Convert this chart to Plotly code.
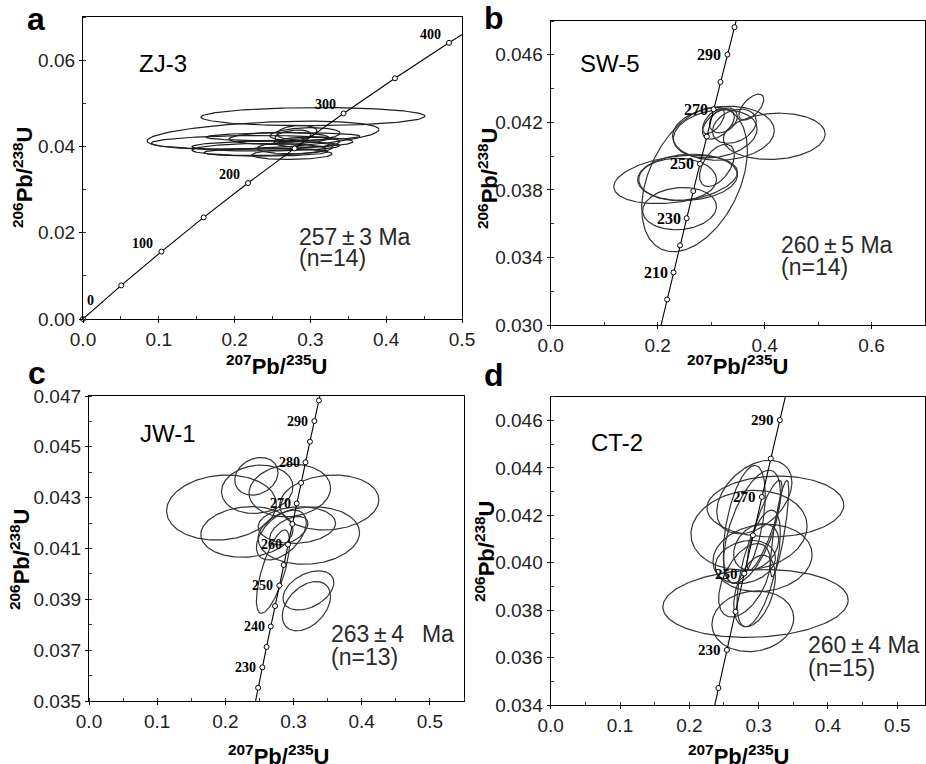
import numpy as np
import plotly.graph_objects as go

W, H = 926, 764

# ---------------- Concordia reference points ----------------
# panel a: ages every 50 Ma
CONC_AGE_A = [0, 50, 100, 150, 200, 250, 300, 350, 400, 450]
CONC_X_A = [0.0, 0.05048, 0.10350, 0.15920, 0.21771, 0.27917, 0.34374, 0.41156, 0.48281, 0.55766]
CONC_Y_A = [0.0, 0.007786, 0.015633, 0.023542, 0.031511, 0.039543, 0.047637, 0.055795, 0.064016, 0.072300]
MARK_A = [0, 50, 100, 150, 200, 250, 300, 350, 400]
LABEL_A = [0, 100, 200, 300, 400]

# panels b-d: ages every 5 Ma
CONC_AGE_Z = [190, 195, 200, 205, 210, 215, 220, 225, 230, 235, 240, 245,
              250, 255, 260, 265, 270, 275, 280, 285, 290, 295, 300, 305]
CONC_X_Z = [0.205774, 0.211726, 0.217708, 0.223719, 0.229759, 0.235830, 0.241930, 0.248061,
            0.254222, 0.260413, 0.266635, 0.272888, 0.279171, 0.285486, 0.291832, 0.298209,
            0.304617, 0.311057, 0.317529, 0.324033, 0.330569, 0.337137, 0.343738, 0.350371]
CONC_Y_Z = [0.029912, 0.030712, 0.031511, 0.032312, 0.033113, 0.033914, 0.034717, 0.035519,
            0.036323, 0.037127, 0.037932, 0.038737, 0.039543, 0.040350, 0.041157, 0.041965,
            0.042773, 0.043582, 0.044392, 0.045203, 0.046014, 0.046825, 0.047637, 0.048450]
MARK_B = [200, 210, 220, 230, 240, 250, 260, 270, 280, 290, 300]
LABEL_B = [210, 230, 250, 270, 290]
MARK_C = [225, 230, 235, 240, 245, 250, 255, 260, 265, 270, 275, 280, 285, 290, 295]
LABEL_C = [230, 240, 250, 260, 270, 280, 290]
MARK_D = [220, 230, 240, 250, 260, 270, 280, 290]
LABEL_D = [230, 250, 270, 290]

# ---------------- Error ellipses (centre, half-widths, correlation) ----------------
A_CX = [0.3034, 0.2375, 0.2230, 0.2414, 0.2414, 0.2757, 0.2639, 0.2586, 0.2770, 0.2929, 0.2823, 0.2797, 0.2955, 0.2322]
A_CY = [0.0469, 0.0426, 0.04093, 0.04007, 0.03868, 0.03814, 0.04226, 0.04186, 0.0424, 0.04279, 0.04326, 0.0397, 0.0410, 0.0393]
A_SX = [0.1478, 0.1530, 0.1330, 0.0976, 0.0818, 0.0528, 0.1016, 0.0660, 0.0237, 0.0462, 0.0264, 0.0500, 0.0435, 0.0884]
A_SY = [0.0021, 0.00326, 0.0016, 0.00116, 0.00093, 0.00116, 0.00093, 0.0014, 0.0014, 0.00155, 0.00163, 0.0014, 0.00116, 0.0014]
A_RHO = [0.05, 0.40, 0.10, 0.10, 0.10, 0.10, 0.10, 0.10, 0.30, 0.20, 0.20, 0.10, 0.10, 0.10]

B_CX = [0.2690, 0.2336, 0.2559, 0.2373, 0.2410, 0.4181, 0.3752, 0.3230, 0.3109, 0.3137, 0.3230, 0.3044, 0.3435, 0.3077]
B_CY = [0.03862, 0.03862, 0.03874, 0.03862, 0.03689, 0.04117, 0.0429, 0.04135, 0.03945, 0.04189, 0.04212, 0.04207, 0.04177, 0.04132]
B_SX = [0.0988, 0.1156, 0.0932, 0.0727, 0.0690, 0.0951, 0.0233, 0.0951, 0.0326, 0.0298, 0.0261, 0.0205, 0.0410, 0.0783]
B_SY = [0.00428, 0.00143, 0.00137, 0.00125, 0.00125, 0.00137, 0.00077, 0.0016, 0.00125, 0.00089, 0.00074, 0.00074, 0.00101, 0.00143]
B_RHO = [0.40, 0.30, 0.10, 0.00, 0.10, 0.10, 0.60, 0.10, 0.50, 0.50, 0.30, 0.60, 0.30, 0.20]

C_CX = [0.1943, 0.2316, 0.2455, 0.2467, 0.2945, 0.3524, 0.3224, 0.3048, 0.2931, 0.2699, 0.3218, 0.3189, 0.2821]
C_CY = [0.04261, 0.04165, 0.04384, 0.04333, 0.04328, 0.04281, 0.04151, 0.04192, 0.0417, 0.04009, 0.03935, 0.03873, 0.04153]
C_SX = [0.0805, 0.0676, 0.0317, 0.0524, 0.0598, 0.0727, 0.0744, 0.0568, 0.0280, 0.0244, 0.0373, 0.0354, 0.0366]
C_SY = [0.00128, 0.000995, 0.00074, 0.00095, 0.00103, 0.00108, 0.00113, 0.00072, 0.00056, 0.00164, 0.00077, 0.00097, 0.00098]
C_RHO = [0.10, 0.10, 0.20, 0.10, 0.10, 0.10, 0.10, 0.10, 0.50, 0.70, 0.40, 0.40, 0.50]

D_CX = [0.2955, 0.3241, 0.2861, 0.3056, 0.2916, 0.2793, 0.3302, 0.3000, 0.2941, 0.2905, 0.2964, 0.2808, 0.3085, 0.2796, 0.2938]
D_CY = [0.03828, 0.04237, 0.04137, 0.0402, 0.03753, 0.04162, 0.04144, 0.03976, 0.03881, 0.04151, 0.04067, 0.04003, 0.04158, 0.03926, 0.04277]
D_SX = [0.1337, 0.0987, 0.0838, 0.0715, 0.0590, 0.0303, 0.0133, 0.0313, 0.0300, 0.0410, 0.0325, 0.0434, 0.0253, 0.0373, 0.0542]
D_SY = [0.00143, 0.00128, 0.00168, 0.00142, 0.00128, 0.00248, 0.00203, 0.00246, 0.00151, 0.00239, 0.00098, 0.00091, 0.00189, 0.00155, 0.00155]
D_RHO = [0.10, 0.05, 0.10, 0.10, 0.10, 0.50, 0.80, 0.60, 0.40, 0.60, 0.30, 0.20, 0.85, 0.50, 0.40]

SAMPLES = ["ZJ-3", "SW-5", "JW-1", "CT-2"]
AGES_TXT = ["257\u2009\u00b1\u20093 Ma", "260\u2009\u00b1\u20095 Ma", "263\u2009\u00b1\u20094\u2002 Ma", "260\u2009\u00b1\u20094 Ma"]
N_TXT = ["(n=14)", "(n=14)", "(n=13)", "(n=15)"]
LETTERS = ["a", "b", "c", "d"]

# ---------------- layout geometry (pixels) ----------------
BOX = {  # left, right, top, bottom
    1: (83, 462, 17, 319),
    2: (550.7, 925, 21, 325),
    3: (89, 464, 396, 701),
    4: (550.7, 925, 396.7, 705),
}

fig = go.Figure()


def ellipse_xy(cx, cy, sx, sy, rho):
    th = np.linspace(0, 2 * np.pi, 181)
    xs, ys = [], []
    for a, b, c, d, r in zip(cx, cy, sx, sy, rho):
        xs += list(a + c * np.cos(th)) + [None]
        ys += list(b + d * (r * np.cos(th) + np.sqrt(1 - r * r) * np.sin(th))) + [None]
    return xs, ys


ELL = {
    1: (A_CX, A_CY, A_SX, A_SY, A_RHO, "#1e1e1e"),
    2: (B_CX, B_CY, B_SX, B_SY, B_RHO, "#333333"),
    3: (C_CX, C_CY, C_SX, C_SY, C_RHO, "#333333"),
    4: (D_CX, D_CY, D_SX, D_SY, D_RHO, "#333333"),
}

CONC = {
    1: (CONC_AGE_A, CONC_X_A, CONC_Y_A, MARK_A, LABEL_A, 14),
    2: (CONC_AGE_Z, CONC_X_Z, CONC_Y_Z, MARK_B, LABEL_B, 16),
    3: (CONC_AGE_Z, CONC_X_Z, CONC_Y_Z, MARK_C, LABEL_C, 14),
    4: (CONC_AGE_Z, CONC_X_Z, CONC_Y_Z, MARK_D, LABEL_D, 15),
}

annotations = []
for k in range(1, 5):
    xa = "x" if k == 1 else f"x{k}"
    ya = "y" if k == 1 else f"y{k}"
    cx, cy, sx, sy, rho, col = ELL[k]
    ex, ey = ellipse_xy(cx, cy, sx, sy, rho)
    fig.add_trace(go.Scatter(x=ex, y=ey, mode="lines", xaxis=xa, yaxis=ya,
                             line=dict(color=col, width=1.2), hoverinfo="skip", showlegend=False))
    ages, cxs, cys, marks, labels, lsize = CONC[k]
    fig.add_trace(go.Scatter(x=cxs, y=cys, mode="lines", xaxis=xa, yaxis=ya,
                             line=dict(color="black", width=1.1), hoverinfo="skip", showlegend=False))
    mx = [cxs[ages.index(a)] for a in marks]
    my = [cys[ages.index(a)] for a in marks]
    fig.add_trace(go.Scatter(x=mx, y=my, mode="markers", xaxis=xa, yaxis=ya,
                             marker=dict(symbol="circle", size=5, color="white",
                                         line=dict(color="black", width=1)),
                             hoverinfo="skip", showlegend=False, cliponaxis=False))
    for a in labels:
        i = ages.index(a)
        if k == 1:
            if a == 0:
                d = dict(xanchor="left", yanchor="bottom", xshift=2, yshift=9)
            else:
                d = dict(xanchor="right", yanchor="bottom", xshift=-6, yshift=-1)
        else:
            d = dict(xanchor="right", yanchor="middle", xshift=-4, yshift=0)
        annotations.append(dict(text=f"<b>{a}</b>", x=cxs[i], y=cys[i], xref=xa, yref=ya,
                                showarrow=False, font=dict(family="Liberation Serif", size=lsize, color="black"),
                                **d))


def pa(text, px, py, size, xanchor="left", yanchor="middle", family="Liberation Sans",
       color="black", angle=0):
    return dict(text=text, x=px / W, y=1 - py / H, xref="paper", yref="paper",
                xanchor=xanchor, yanchor=yanchor, showarrow=False, textangle=angle,
                font=dict(family=family, size=size, color=color))


# letters
annotations += [pa("<b>a</b>", 35.5, 19, 32, "center"), pa("<b>b</b>", 494, 18, 32, "center"),
                pa("<b>c</b>", 36.5, 373, 32, "center"), pa("<b>d</b>", 494.5, 375, 32, "center")]
# sample names
for name, (px, py) in zip(SAMPLES, [(137, 64), (578, 64), (138, 433), (589, 442)]):
    annotations.append(pa(name, px, py, 24))
# ages
for t, n, (px, py1, py2) in zip(AGES_TXT, N_TXT, [(297, 237, 258), (779, 245, 267), (329, 634, 657), (806, 645, 668)]):
    annotations.append(pa(t, px, py1, 23, color="#2a2a2a"))
    annotations.append(pa(n, px, py2, 23, color="#2a2a2a"))
# axis titles
XT = "<b><sup>207</sup>Pb/<sup>235</sup>U</b>"
YT = "<b><sup>206</sup>Pb/<sup>238</sup>U</b>"
for px, py in [(277, 365), (738, 365), (279, 755), (739, 755)]:
    annotations.append(pa(XT, px, py, 22, "center"))
for px, py in [(23, 177), (488, 178), (20, 559), (485, 551)]:
    annotations.append(pa(YT, px, py, 22, "center", angle=-90))

AX = {
    1: (dict(range=[0, 0.5], dtick=0.1, tick0=0, tickformat=".1f", minor=0.05),
        dict(range=[0, 0.07], dtick=0.02, tick0=0, tickformat=".2f", minor=0.01)),
    2: (dict(range=[0, 0.7], dtick=0.2, tick0=0, tickformat=".1f", minor=0.1),
        dict(range=[0.030, 0.048], dtick=0.004, tick0=0.030, tickformat=".3f", minor=0.002)),
    3: (dict(range=[0, 0.55], dtick=0.1, tick0=0, tickformat=".1f", minor=0.05),
        dict(range=[0.035, 0.047], dtick=0.002, tick0=0.035, tickformat=".3f", minor=0.001)),
    4: (dict(range=[0, 0.54], dtick=0.1, tick0=0, tickformat=".1f", minor=0.05),
        dict(range=[0.034, 0.047], dtick=0.002, tick0=0.034, tickformat=".3f", minor=0.001)),
}


def axis(spec, domain, anchor, is_x):
    return dict(range=spec["range"], dtick=spec["dtick"], tick0=spec["tick0"], tickformat=spec["tickformat"],
                domain=domain, anchor=anchor, showline=True, linecolor="black", linewidth=1.3, mirror=True,
                ticks="outside", ticklen=3, tickwidth=1, tickcolor="black", showgrid=False, zeroline=False,
                tickfont=dict(family="Liberation Sans", size=19, color="#222222"),
                ticklabelstandoff=0, automargin=False,
                minor=dict(dtick=spec["minor"], tick0=spec["tick0"], ticks="inside", ticklen=3,
                           tickwidth=1, tickcolor="#333333", showgrid=False),
                fixedrange=True)


lay = dict(width=W, height=H, margin=dict(l=0, r=0, t=0, b=0, pad=0, autoexpand=False),
           paper_bgcolor="white", plot_bgcolor="white", showlegend=False, annotations=annotations)
for k in range(1, 5):
    l, r, t, b = BOX[k]
    xs, ys = AX[k]
    xname = "xaxis" if k == 1 else f"xaxis{k}"
    yname = "yaxis" if k == 1 else f"yaxis{k}"
    lay[xname] = axis(xs, [l / W, r / W], "y" if k == 1 else f"y{k}", True)
    lay[yname] = axis(ys, [1 - b / H, 1 - t / H], "x" if k == 1 else f"x{k}", False)
fig.update_layout(**lay)

fig.write_html("out.html")
